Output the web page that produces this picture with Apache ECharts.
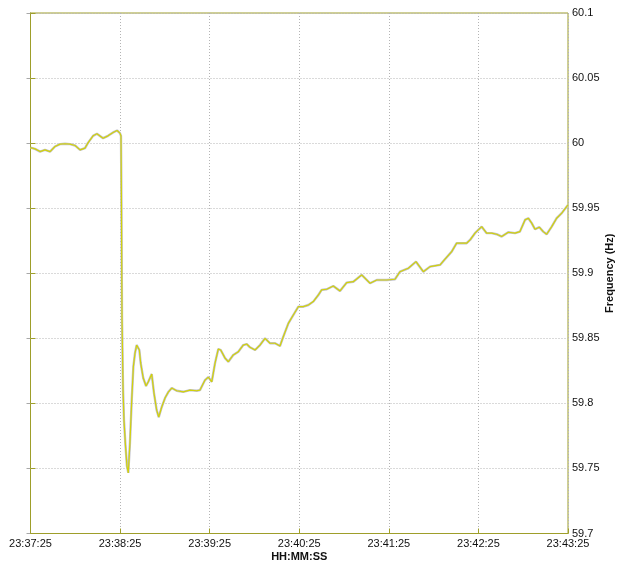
<!DOCTYPE html>
<html>
<head>
<meta charset="utf-8">
<style>
  html, body { margin: 0; padding: 0; background: #ffffff; }
  #chart { width: 619px; height: 565px; }
</style>
<script src="https://cdn.jsdelivr.net/npm/echarts@6/dist/echarts.min.js"></script>
</head>
<body>
<div id="chart"></div>
<script>
// Elapsed seconds since 23:37:25
var seconds = [
  0, 3.0, 6.4, 9.7, 13.1, 16.4, 19.8, 23.1, 26.5, 29.8, 33.2, 36.5, 38.5, 41.9, 44.5,
  48.6, 51.9, 55.3, 58.0, 59.9, 60.6, 60.9, 61.3, 62.0, 62.6, 63.6, 64.6, 65.5, 66.6,
  67.8, 68.9, 70.0, 71.1, 72.9, 73.8, 75.5, 77.4, 78.9, 81.2, 82.7, 84.5, 85.9, 87.9,
  90.1, 92.3, 94.6, 97.9, 102.3, 106.8, 111.3, 113.5, 116.9, 119.1, 121.4, 123.6, 125.8,
  127.4, 130.3, 132.5, 135.8, 139.2, 140.3, 142.5, 144.8, 147.0, 150.4, 153.7, 157.1,
  160.4, 163.8, 167.1, 169.3, 172.7, 176.0, 179.4, 182.7, 186.1, 189.4, 192.8, 195.0,
  198.4, 202.8, 207.3, 211.8, 216.2, 221.8, 227.4, 231.9, 238.6, 244.1, 247.5, 253.0,
  258.2, 263.1, 267.6, 274.3, 277.6, 282.1, 285.4, 292.1, 294.4, 297.7, 302.2, 305.5,
  308.9, 312.2, 315.6, 320.0, 324.5, 327.8, 331.2, 333.4, 335.7, 337.9, 340.8, 343.4,
  345.7, 349.1, 352.4, 355.8, 360
];

// Measured frequency (Hz)
var frequency = [
  59.9966, 59.9956, 59.9935, 59.9948, 59.9935, 59.9974, 59.9992, 59.9995, 59.9992, 59.9982,
  59.9948, 59.9962, 60.0002, 60.0056, 60.0072, 60.0038, 60.0056, 60.0082, 60.0097, 60.0077,
  60.0056, 59.9564, 59.8641, 59.8102, 59.7872, 59.7679, 59.7518, 59.7466, 59.7695, 59.8025,
  59.8282, 59.8387, 59.8448, 59.8410, 59.8310, 59.8195, 59.8133, 59.8166, 59.8225, 59.8079,
  59.7948, 59.7895, 59.7972, 59.8041, 59.8087, 59.8118, 59.8097, 59.8089, 59.8102, 59.8097,
  59.8102, 59.8179, 59.8202, 59.8166, 59.8310, 59.8418, 59.8410, 59.8348, 59.8320, 59.8372,
  59.8397, 59.8397, 59.8448, 59.8456, 59.8431, 59.8410, 59.8448, 59.8500, 59.8462, 59.8462,
  59.8441, 59.8512, 59.8615, 59.8679, 59.8743, 59.8743, 59.8756, 59.8782, 59.8833, 59.8872,
  59.8877, 59.8902, 59.8864, 59.8928, 59.8935, 59.8987, 59.8923, 59.8948, 59.8948, 59.8954,
  59.9012, 59.9038, 59.9089, 59.9012, 59.9051, 59.9064, 59.9108, 59.9166, 59.9231, 59.9231,
  59.9256, 59.9308, 59.9358, 59.9308, 59.9308, 59.9300, 59.9282, 59.9315, 59.9308, 59.9320,
  59.9410, 59.9423, 59.9385, 59.9338, 59.9354, 59.9320, 59.9300, 59.9358, 59.9423, 59.9462,
  59.9525
];

// Clock labels for each minute tick
var timeLabels = ['23:37:25', '23:38:25', '23:39:25', '23:40:25', '23:41:25', '23:42:25', '23:43:25'];

var points = seconds.map(function (s, i) { return [s, frequency[i]]; });

var olive = '#9e9e2a';
var font = '"Liberation Sans", Arial, sans-serif';
var gridDots = { color: '#b4b4b4', type: [1, 2], width: 1 };

var chart = echarts.init(document.getElementById('chart'), null, { renderer: 'canvas' });
chart.setOption({
  animation: false,
  backgroundColor: '#ffffff',
  grid: {
    left: 30.5, right: 51, top: 13, bottom: 31.5,
    outerBoundsMode: 'none', containLabel: false,
    show: true, borderColor: olive, borderWidth: 1
  },
  xAxis: {
    type: 'value', min: 0, max: 360, interval: 60,
    name: 'HH:MM:SS', nameLocation: 'middle', nameGap: 18, nameMoveOverlap: false,
    nameTextStyle: { fontFamily: font, fontSize: 11, fontWeight: 'bold', color: '#111' },
    axisLine: { show: true, lineStyle: { color: olive, width: 1 } },
    axisTick: { show: true, inside: true, length: 5, lineStyle: { color: olive } },
    axisLabel: {
      margin: 5, fontFamily: font, fontSize: 11, color: '#111',
      formatter: function (v) { return timeLabels[Math.round(v / 60)]; }
    },
    splitLine: { show: true, lineStyle: gridDots }
  },
  yAxis: [{
    type: 'value', position: 'right', min: 59.7, max: 60.1, interval: 0.05,
    name: 'Frequency (Hz)', nameLocation: 'middle', nameGap: 36, nameRotate: 90,
    nameMoveOverlap: false,
    nameTextStyle: { fontFamily: font, fontSize: 11, fontWeight: 'bold', color: '#111' },
    axisLine: { show: true, lineStyle: { color: olive, width: 1 } },
    axisTick: { show: true, inside: true, length: 4, lineStyle: { color: '#a8a8a8' } },
    axisLabel: {
      margin: 4, fontFamily: font, fontSize: 11, color: '#111',
      formatter: function (v) { return String(+v.toFixed(2)); }
    },
    splitLine: { show: true, lineStyle: gridDots }
  }, {
    type: 'value', position: 'left', min: 59.7, max: 60.1, interval: 0.05,
    axisLine: { show: true, lineStyle: { color: olive, width: 1 } },
    axisTick: { show: true, inside: true, length: 5, lineStyle: { color: olive } },
    axisLabel: { show: false },
    splitLine: { show: false }
  }],
  series: [{
    name: 'shade', type: 'line', data: points, showSymbol: false, silent: true,
    lineStyle: { color: '#c2c2cc', width: 2.4 }, z: 2
  }, {
    name: 'trace', type: 'line', data: points, showSymbol: false, silent: true,
    lineStyle: { color: '#d2d20a', width: 1.2 }, z: 3
  }]
});
</script>
</body>
</html>
